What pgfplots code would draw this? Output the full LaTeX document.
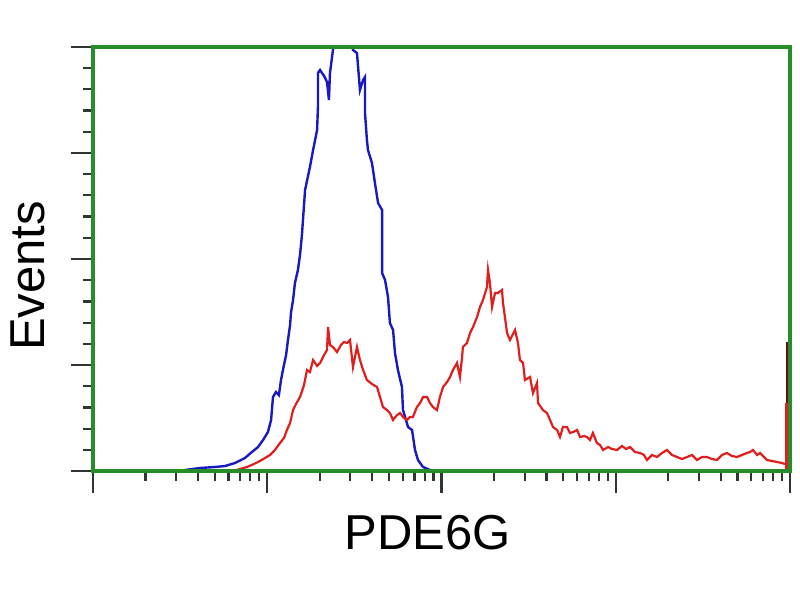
\documentclass[border=0pt]{standalone}
\usepackage{fontspec}
\setmainfont{Liberation Sans}
\usepackage{pgfplots}
\pgfplotsset{compat=1.18}
\definecolor{framegreen}{RGB}{40,140,40}
\definecolor{tickgray}{RGB}{45,55,45}
\definecolor{histblue}{RGB}{25,25,195}
\definecolor{histred}{RGB}{225,30,30}
\definecolor{spikedark}{RGB}{90,20,15}

\begin{document}
\begin{tikzpicture}
\begin{axis}[
    scale only axis,
    width=697pt, height=424pt,
    xmin=0, xmax=4, ymin=0, ymax=424,
    xtick={0,1,2,3,4},
    minor xtick={0.301,0.477,0.602,0.699,0.778,0.845,0.903,0.954,
                 1.301,1.477,1.602,1.699,1.778,1.845,1.903,1.954,
                 2.301,2.477,2.602,2.699,2.778,2.845,2.903,2.954,
                 3.301,3.477,3.602,3.699,3.778,3.845,3.903,3.954},
    ytick={0,106,212,318,424},
    minor y tick num=4,
    xticklabels={}, yticklabels={},
    tick align=outside,
    xtick pos=bottom, ytick pos=left,
    major tick length=22pt, minor tick length=10pt,
    every tick/.style={tickgray, line width=2.2pt},
    axis line style={framegreen, line width=3.2pt},
    axis on top,
    xlabel={PDE6G}, ylabel={Events},
    label style={font=\fontsize{49}{58}\selectfont},
    xlabel style={at={(axis description cs:0.4806,-0.1863)}, anchor=base},
    ylabel style={at={(axis description cs:-0.0689,0.46)}, anchor=base},
]
\coordinate (o) at (rel axis cs:0,0);

% isotype control
\addplot[histblue, line width=2.4pt] coordinates {
(0.528,1) (0.614,3) (0.700,4) (0.758,5) (0.815,8) (0.872,13) (0.912,19)
(0.947,24) (0.976,31) (1.004,39) (1.022,51) (1.033,74) (1.050,79) (1.067,76)
(1.079,91) (1.090,101) (1.108,116) (1.119,131) (1.131,146) (1.136,158)
(1.148,171) (1.159,188) (1.176,201) (1.188,216) (1.199,236) (1.217,281)
(1.245,304) (1.263,321) (1.286,341) (1.291,364) (1.291,398) (1.303,401)
(1.326,395) (1.343,389) (1.354,371) (1.360,398) (1.377,421) (1.395,440)
(1.475,440) (1.492,421) (1.515,418) (1.532,381) (1.550,391) (1.561,394)
(1.561,358) (1.572,331) (1.578,321) (1.601,308) (1.618,288) (1.636,268)
(1.659,261) (1.659,198) (1.676,191) (1.693,174) (1.704,148) (1.722,141)
(1.733,118) (1.750,101) (1.773,84) (1.779,61) (1.808,44) (1.831,41)
(1.848,21) (1.865,11) (1.894,4) (1.934,1) (1.991,0)
};

% PDE6G transfected
\addplot[histred, line width=2.2pt] coordinates {
(0.803,0) (0.844,2) (0.884,4) (0.924,7) (0.958,10) (0.987,13) (1.016,16)
(1.044,21) (1.073,28) (1.096,33) (1.113,41) (1.131,48) (1.148,61) (1.165,67)
(1.188,74) (1.211,86) (1.228,101) (1.245,99) (1.263,111) (1.286,105)
(1.303,108) (1.326,116) (1.343,121) (1.349,144) (1.360,126) (1.377,124)
(1.400,119) (1.423,126) (1.440,129) (1.458,128) (1.475,131) (1.492,104)
(1.515,124) (1.532,111) (1.550,101) (1.572,91) (1.601,87) (1.630,84)
(1.647,74) (1.664,64) (1.687,61) (1.704,58) (1.722,51) (1.745,56)
(1.762,58) (1.779,54) (1.802,51) (1.819,54) (1.836,54) (1.859,64)
(1.877,68) (1.894,74) (1.917,74) (1.934,68) (1.951,64) (1.974,61)
(1.991,74) (2.009,84) (2.032,89) (2.049,94) (2.066,101) (2.089,108)
(2.106,94) (2.118,114) (2.123,124) (2.146,128) (2.164,138) (2.181,144)
(2.204,154) (2.221,164) (2.238,171) (2.261,184) (2.267,201) (2.278,188)
(2.290,164) (2.307,178) (2.324,178) (2.347,181) (2.353,168) (2.364,154)
(2.376,138) (2.393,131) (2.422,141) (2.439,128) (2.450,111) (2.468,108)
(2.479,91) (2.508,94) (2.525,78) (2.548,88) (2.554,68) (2.582,61)
(2.605,58) (2.623,51) (2.640,44) (2.663,41) (2.680,34) (2.697,44)
(2.720,44) (2.737,38) (2.755,39) (2.778,41) (2.795,34) (2.818,35)
(2.835,34) (2.852,31) (2.869,38) (2.892,28) (2.910,26) (2.927,21)
(2.956,24) (2.978,22) (3.007,21) (3.036,25) (3.059,22) (3.082,24)
(3.110,19) (3.139,18) (3.162,16) (3.179,11) (3.208,16) (3.237,14)
(3.265,18) (3.294,21) (3.323,16) (3.351,14) (3.380,12) (3.409,14)
(3.438,16) (3.466,11) (3.495,14) (3.524,14) (3.552,12) (3.581,11)
(3.610,16) (3.638,18) (3.667,15) (3.696,14) (3.724,16) (3.753,18)
(3.771,19) (3.788,21) (3.811,16) (3.828,18) (3.851,14) (3.868,11)
(3.897,10) (3.925,9) (3.954,8) (3.971,7)
};

% saturated last channel
\addplot[spikedark, line width=2.5pt] coordinates {(3.984,0) (3.984,129)};
\addplot[histred, line width=3pt] coordinates {(3.978,0) (3.978,68)};
\end{axis}
\path (o) ++(-93pt,-129pt) rectangle ++(800pt,600pt);
\end{tikzpicture}
\end{document}
